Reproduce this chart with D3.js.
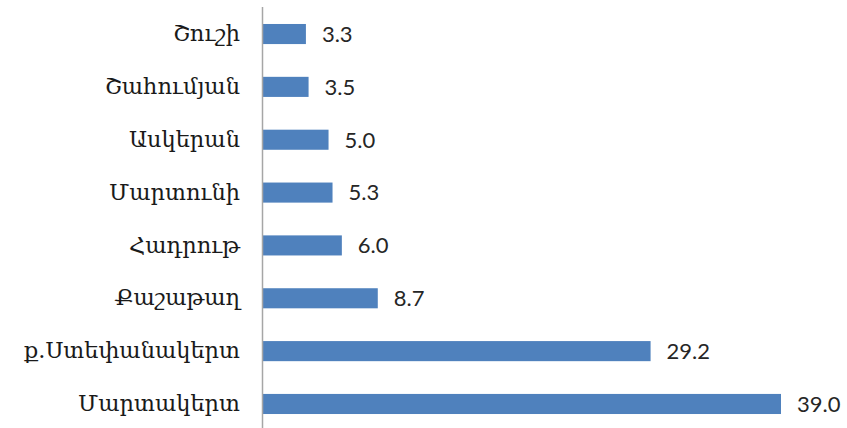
<!DOCTYPE html>
<html><head><meta charset="utf-8">
<script src="https://cdn.jsdelivr.net/npm/d3@7"></script>
<style>body{margin:0;background:#fff}svg{display:block}</style>
</head><body>
<svg id="c" width="847" height="428"></svg>
<script>
const categories = ["Շուշի","Շահումյան","Ասկերան","Մարտունի","Հադրութ","Քաշաթաղ","ք.Ստեփանակերտ","Մարտակերտ"];
const values = [3.3, 3.5, 5.0, 5.3, 6.0, 8.7, 29.2, 39.0];

const svg = d3.select("#c");
const x0 = 262;
const x = d3.scaleLinear().domain([0, 39]).range([x0, 781]);
const y = d3.scaleBand().domain(categories).range([7.6, 430.4]).paddingInner(0.62).paddingOuter(0.31);

svg.selectAll("rect.bar").data(values).enter().append("rect")
  .attr("class","bar")
  .attr("x", x(0))
  .attr("y", (d,i)=>y(categories[i]))
  .attr("width", d=>x(d)-x(0))
  .attr("height", y.bandwidth())
  .attr("fill", "#4f81bd");

svg.selectAll("text.val").data(values).enter().append("text")
  .attr("class","val")
  .attr("x", d=>x(d)+16)
  .attr("y", (d,i)=>y(categories[i])+y.bandwidth()/2)
  .attr("dy","0.36em")
  .attr("font-family","Lato, 'Open Sans', sans-serif")
  .attr("font-size", 22)
  .attr("fill","#262626")
  .text(d=>d.toFixed(1));

const axis = d3.axisLeft(y).tickSize(0).tickPadding(22);
const g = svg.append("g").attr("transform",`translate(${x0},0)`).call(axis);
g.select(".domain").attr("d","M0.5,7V428").attr("stroke","#a6a6a6").attr("stroke-width",1.5);
g.selectAll(".tick text")
  .attr("font-family","'DejaVu Serif', serif")
  .attr("font-size", 22.5)
  .attr("fill","#1a1a1a");
</script>
</body></html>
